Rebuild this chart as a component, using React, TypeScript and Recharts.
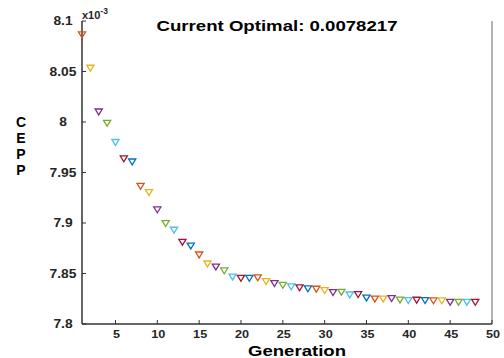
import { ScatterChart, Scatter, XAxis, YAxis, ReferenceLine } from "recharts";

// generation index and best CEPP so far (in units of 1e-3)
const generations = [
  1, 2, 3, 4, 5, 6, 7, 8, 9, 10, 11, 12, 13, 14, 15, 16, 17, 18, 19, 20, 21, 22, 23, 24,
  25, 26, 27, 28, 29, 30, 31, 32, 33, 34, 35, 36, 37, 38, 39, 40, 41, 42, 43, 44, 45, 46, 47, 48,
];
const cepp = [
  8.0866, 8.0535, 8.0102, 7.999, 7.98, 7.9637, 7.9607, 7.9366, 7.9304, 7.9132, 7.8997, 7.8931,
  7.8812, 7.8775, 7.8686, 7.8597, 7.8567, 7.8528, 7.8468, 7.8455, 7.8455, 7.8459, 7.8423, 7.8403,
  7.8386, 7.837, 7.836, 7.835, 7.8347, 7.8334, 7.8314, 7.8317, 7.829, 7.8294, 7.826, 7.825,
  7.825, 7.8254, 7.824, 7.8234, 7.8238, 7.8234, 7.8231, 7.8231, 7.8218, 7.8218, 7.8218, 7.8217,
];
const xTicks = [5, 10, 15, 20, 25, 30, 35, 40, 45, 50];
const yTicks = [7.8, 7.85, 7.9, 7.95, 8, 8.05, 8.1];
const title = "Current Optimal: 0.0078217";

// MATLAB default colour order
const palette = ["#0072BD", "#D95319", "#EDB120", "#7E2F8E", "#77AC30", "#4DBEEE", "#A2142F"];

const data = generations.map((g, i) => ({ gen: g, value: cepp[i] }));

const FONT = "'Liberation Sans', Arial, sans-serif";
const AXIS = "#333333";
const SX = 1.15;

const TriangleDown = (props: any) => {
  const { cx, cy, payload } = props;
  const color = palette[payload.gen % palette.length];
  const pts = `${cx - 3.6},${cy - 2.7} ${cx + 3.6},${cy - 2.7} ${cx},${cy + 3.2}`;
  return <polygon points={pts} fill="none" stroke={color} strokeWidth={1.3} strokeLinejoin="miter" />;
};

const YTick = (props: any) => {
  const { x, y, payload } = props;
  const label = String(Number(payload.value.toFixed(2)));
  return (
    <g>
      <line x1={x} y1={y} x2={x + 4} y2={y} stroke={AXIS} strokeWidth={1} />
      <text
        transform={`translate(${x - 19},${y + 4.3}) scale(${SX},1)`}
        textAnchor="middle"
        fontFamily={FONT}
        fontWeight="bold"
        fontSize={12}
        fill="#262626"
      >
        {label}
      </text>
    </g>
  );
};

const XTick = (props: any) => {
  const { x, y, payload } = props;
  return (
    <g>
      <line x1={x} y1={y} x2={x} y2={y - 4} stroke={AXIS} strokeWidth={1} />
      <text
        transform={`translate(${x + 1},${y + 13.5}) scale(${SX},1)`}
        textAnchor="middle"
        fontFamily={FONT}
        fontWeight="bold"
        fontSize={11}
        fill="#262626"
      >
        {payload.value}
      </text>
    </g>
  );
};

export default function App() {
  return (
    <div style={{ position: "absolute", left: 0, top: 0, width: 504, height: 358, background: "#fff" }}>
      <ScatterChart width={504} height={358} margin={{ top: 21, right: 12, bottom: 0, left: 0 }}>
        <XAxis
          type="number"
          dataKey="gen"
          domain={[1, 50]}
          ticks={xTicks}
          height={34}
          tickSize={0}
          tickMargin={0}
          tickLine={false}
          axisLine={{ stroke: AXIS, strokeWidth: 1.5 }}
          tick={<XTick />}
          interval={0}
        />
        <YAxis
          type="number"
          dataKey="value"
          domain={[7.8, 8.1]}
          ticks={yTicks}
          width={82}
          tickSize={0}
          tickMargin={0}
          tickLine={false}
          axisLine={{ stroke: AXIS, strokeWidth: 1.5 }}
          tick={<YTick />}
          interval={0}
          allowDataOverflow
        />
        <ReferenceLine x={50} stroke="#7f7f7f" strokeWidth={1.2} ifOverflow="visible" />
        <Scatter data={data} shape={<TriangleDown />} isAnimationActive={false} />
      </ScatterChart>
      <svg
        width={504}
        height={358}
        style={{ position: "absolute", left: 0, top: 0, pointerEvents: "none" }}
        fontFamily={FONT}
        fontWeight="bold"
        fill="#000"
      >
        <text x={277} y={31} fontSize={15} textAnchor="middle" textLength={241} lengthAdjust="spacingAndGlyphs">
          {title}
        </text>
        <text x={82} y={19} fontSize={11} fill="#262626">
          x10<tspan dy={-5} fontSize={8.5}>-3</tspan>
        </text>
        <text x={297} y={355.5} fontSize={15} textAnchor="middle" textLength={98} lengthAdjust="spacingAndGlyphs">
          Generation
        </text>
        <text x={21} y={127} fontSize={14} textAnchor="middle">C</text>
        <text x={21} y={143} fontSize={14} textAnchor="middle">E</text>
        <text x={21} y={159} fontSize={14} textAnchor="middle">P</text>
        <text x={21} y={175} fontSize={14} textAnchor="middle">P</text>
      </svg>
    </div>
  );
}
